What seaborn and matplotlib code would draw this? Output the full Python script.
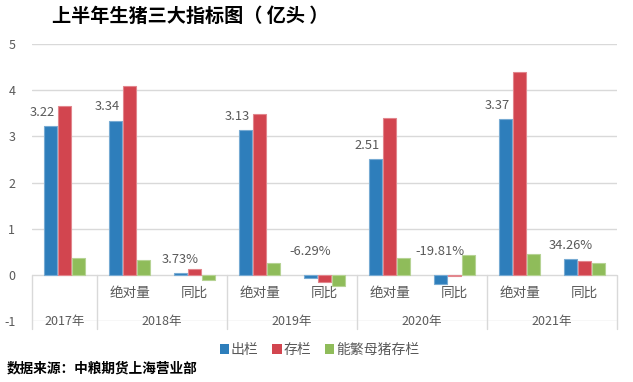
import matplotlib
matplotlib.use("Agg")
import matplotlib.pyplot as plt
from matplotlib.patches import Patch
from matplotlib.colors import to_rgb
import seaborn as sns
import pandas as pd

# ---------------- data ----------------
years = ["2017年", "2018年", "2018年", "2019年", "2019年", "2020年", "2020年", "2021年", "2021年"]
subs = ["", "绝对量", "同比", "绝对量", "同比", "绝对量", "同比", "绝对量", "同比"]
series = ["出栏", "存栏", "能繁母猪存栏"]
chulan = [3.22, 3.34, 0.0373, 3.13, -0.0629, 2.51, -0.1981, 3.37, 0.3426]
cunlan = [3.65, 4.08, 0.12, 3.48, -0.145, 3.40, -0.025, 4.40, 0.292]
nengfan = [0.355, 0.325, -0.11, 0.26, -0.24, 0.36, 0.43, 0.46, 0.257]
chulan_labels = ["3.22", "3.34", "3.73%", "3.13", "-6.29%", "2.51", "-19.81%", "3.37", "34.26%"]
yticks = [-1, 0, 1, 2, 3, 4, 5]
title = "上半年生猪三大指标图（ 亿头 ）"
source = "数据来源：中粮期货上海营业部"

colors = ["#2E7EBB", "#D2454F", "#8FBC5A"]
GRAY = "#595959"
GRID = "#D9D9D9"

keys = [y + s for y, s in zip(years, subs)]
rows = []
for name, vals in zip(series, [chulan, cunlan, nengfan]):
    for k, v in zip(keys, vals):
        rows.append({"cat": k, "series": name, "value": v})
df = pd.DataFrame(rows)

sns.set_theme(style="white")
plt.rcParams["font.family"] = ["Noto Sans CJK SC", "DejaVu Sans"]
plt.rcParams["axes.unicode_minus"] = False

fig = plt.figure(figsize=(6.33, 3.82), dpi=100)
ax = fig.add_axes([32 / 633, 1 - 321 / 382, (617 - 32) / 633, (321 - 44) / 382])

sns.barplot(data=df, x="cat", y="value", hue="series", order=keys, hue_order=series,
            palette=colors, width=0.65, gap=0.12, errorbar=None, legend=False, ax=ax,
            saturation=1)

# lighter outline on each bar, like the original
for cont, c in zip(ax.containers, colors):
    r, g, b = to_rgb(c)
    light = (r + (1 - r) * 0.35, g + (1 - g) * 0.35, b + (1 - b) * 0.35)
    for p in cont:
        p.set_edgecolor(light)
        p.set_linewidth(0.8)

ax.set_ylim(-1, 5)
ax.set_xlim(-0.5, len(keys) - 0.5)
ax.set_yticks(yticks)
ax.set_yticklabels([str(t) for t in yticks], color=GRAY, fontsize=9)
ax.tick_params(axis="y", length=0, pad=12)
ax.tick_params(axis="x", length=0, labelbottom=False)
ax.set_xlabel("")
ax.set_ylabel("")
for sp in ax.spines.values():
    sp.set_visible(False)
ax.yaxis.grid(True, color=GRID, lw=1)
ax.set_axisbelow(True)

# blue bar labels
blue_bars = ax.containers[0]
for bar, lab, v in zip(blue_bars, chulan_labels, chulan):
    cx = bar.get_x() + bar.get_width() / 2
    if lab.endswith("%"):
        if v >= 0:
            ax.annotate(lab, (cx, v), xytext=(0, 10), textcoords="offset points",
                        ha="center", va="center", fontsize=9.3, color=GRAY)
        else:
            ax.annotate(lab, (cx, 0), xytext=(0, 16.5), textcoords="offset points",
                        ha="center", va="center", fontsize=9.3, color=GRAY)
    else:
        ax.annotate(lab, (bar.get_x() + bar.get_width(), v), xytext=(-1, 10),
                    textcoords="offset points", ha="right", va="center",
                    fontsize=9.3, color=GRAY)

# multi-level category axis
bounds = [-0.5]
for i in range(1, len(keys)):
    if years[i] != years[i - 1]:
        bounds.append(i - 0.5)
bounds.append(len(keys) - 0.5)
for b in bounds:
    ax.plot([b, b], [0, -1.17], color=GRID, lw=1, clip_on=False, zorder=1)
for i, s in enumerate(subs):
    if s:
        ax.text(i, -0.39, s, ha="center", va="center", fontsize=9.8, color=GRAY)
for a, b in zip(bounds[:-1], bounds[1:]):
    yr = years[int(a + 0.5)]
    ax.text((a + b) / 2, -1.0, yr, ha="center", va="center", fontsize=9,
            color=GRAY, clip_on=False)

# legend
handles = [Patch(facecolor=c, edgecolor="none") for c in colors]
fig.legend(handles, series, loc="center", bbox_to_anchor=(0.505, 1 - 350 / 382), ncol=3,
           frameon=False, fontsize=10, handlelength=0.65, handleheight=0.65,
           handletextpad=0.15, columnspacing=1.0, labelcolor=GRAY)

fig.text(52 / 633, 1 - 16 / 382, title, fontsize=13.8, fontweight="bold",
         ha="left", va="center", color="black")
fig.text(7 / 633, 1 - 368 / 382, source, fontsize=9.8, fontweight="bold",
         ha="left", va="center", color="black")

fig.savefig("out.png", dpi=100)
